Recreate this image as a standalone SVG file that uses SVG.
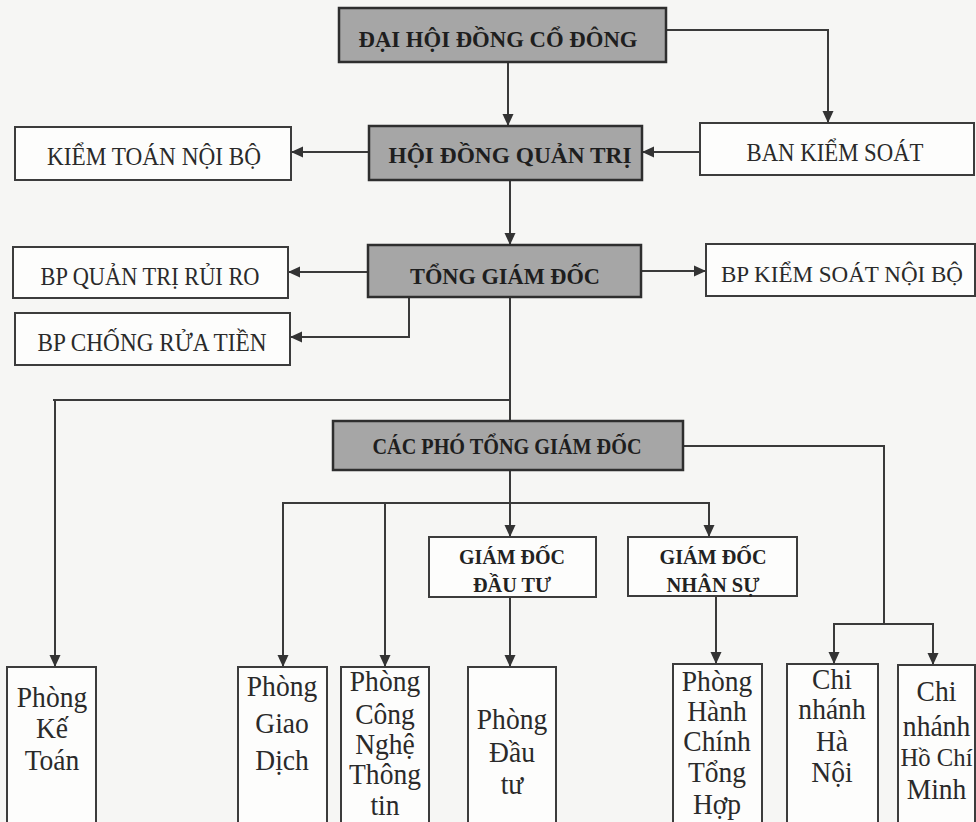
<svg xmlns="http://www.w3.org/2000/svg" width="976" height="822" viewBox="0 0 976 822">
<defs>
<marker id="ah" markerUnits="userSpaceOnUse" markerWidth="12" markerHeight="12" viewBox="0 0 12 12" refX="12" refY="6" orient="auto">
<path d="M0,0.5 L12,6 L0,11.5 z" fill="#333"/>
</marker>
<style>
.dark{fill:#a6a6a6;stroke:#2e2e2e;stroke-width:2.5}
.box{fill:#fdfdfc;stroke:#3c3c3c;stroke-width:2}
.hd{font-family:"Liberation Serif","Times New Roman",serif;font-weight:bold;font-size:24px;fill:#1e1e1e;text-anchor:middle}
.sm{font-family:"Liberation Serif","Times New Roman",serif;font-weight:bold;font-size:20px;fill:#222;text-anchor:middle}
.rg{font-family:"Liberation Serif","Times New Roman",serif;font-size:26px;fill:#2a2a2a;text-anchor:middle}
.bt{font-family:"Liberation Serif","Times New Roman",serif;font-size:29px;fill:#2a2a2a;text-anchor:middle}
.ln{fill:none;stroke:#3a3a3a;stroke-width:2}
</style>
</defs>
<rect width="976" height="822" fill="#f6f6f4"/>
<g id="connectors">
<line class="ln" x1="508" y1="62" x2="508" y2="126" marker-end="url(#ah)"/>
<polyline class="ln" points="666,30 828,30 828,123" marker-end="url(#ah)"/>
<line class="ln" x1="369" y1="152" x2="291" y2="152" marker-end="url(#ah)"/>
<line class="ln" x1="700" y1="152" x2="642" y2="152" marker-end="url(#ah)"/>
<line class="ln" x1="510" y1="180" x2="510" y2="245" marker-end="url(#ah)"/>
<line class="ln" x1="368" y1="272" x2="288" y2="272" marker-end="url(#ah)"/>
<line class="ln" x1="641" y1="271" x2="706" y2="271" marker-end="url(#ah)"/>
<polyline class="ln" points="409,297 409,337 290,337" marker-end="url(#ah)"/>
<line class="ln" x1="510" y1="297" x2="510" y2="421"/>
<polyline class="ln" points="510,400 53,400"/>
<line class="ln" x1="55" y1="400" x2="55" y2="667" marker-end="url(#ah)"/>
<polyline class="ln" points="683,446 884,446 884,624"/>
<line class="ln" x1="834" y1="624" x2="933" y2="624"/>
<line class="ln" x1="834" y1="623" x2="834" y2="664" marker-end="url(#ah)"/>
<line class="ln" x1="933" y1="623" x2="933" y2="665" marker-end="url(#ah)"/>
<line class="ln" x1="510" y1="470" x2="510" y2="537" marker-end="url(#ah)"/>
<line class="ln" x1="283" y1="503" x2="709" y2="503"/>
<line class="ln" x1="283" y1="502" x2="283" y2="667" marker-end="url(#ah)"/>
<line class="ln" x1="385" y1="502" x2="385" y2="667" marker-end="url(#ah)"/>
<line class="ln" x1="709" y1="502" x2="709" y2="537" marker-end="url(#ah)"/>
<line class="ln" x1="510" y1="597" x2="510" y2="667" marker-end="url(#ah)"/>
<line class="ln" x1="716" y1="596" x2="716" y2="664" marker-end="url(#ah)"/>
</g>
<g id="dhcd">
<rect class="dark" x="339" y="8" width="327" height="54"/>
<text class="hd" x="498" y="47" textLength="279" lengthAdjust="spacingAndGlyphs">ĐẠI HỘI ĐỒNG CỔ ĐÔNG</text>
</g>
<g id="hdqt">
<rect class="dark" x="369" y="126" width="273" height="54"/>
<text class="hd" x="510" y="163" textLength="243" lengthAdjust="spacingAndGlyphs">HỘI ĐỒNG QUẢN TRỊ</text>
</g>
<g id="ktnb">
<rect class="box" x="15" y="127" width="276" height="53"/>
<text class="rg" x="154" y="165" textLength="214" lengthAdjust="spacingAndGlyphs">KIỂM TOÁN NỘI BỘ</text>
</g>
<g id="bks">
<rect class="box" x="700" y="123" width="274" height="52"/>
<text class="rg" x="835" y="161" textLength="177" lengthAdjust="spacingAndGlyphs">BAN KIỂM SOÁT</text>
</g>
<g id="tgd">
<rect class="dark" x="368" y="245" width="273" height="52"/>
<text class="hd" x="505" y="284" textLength="190" lengthAdjust="spacingAndGlyphs">TỔNG GIÁM ĐỐC</text>
</g>
<g id="bpqtrr">
<rect class="box" x="13" y="247" width="275" height="51"/>
<text class="rg" x="150" y="285" textLength="219" lengthAdjust="spacingAndGlyphs">BP QUẢN TRỊ RỦI RO</text>
</g>
<g id="bpksnb">
<rect class="box" x="706" y="244" width="269" height="52"/>
<text class="rg" x="842" y="282" style="font-size:24px" textLength="242" lengthAdjust="spacingAndGlyphs">BP KIỂM SOÁT NỘI BỘ</text>
</g>
<g id="bpcrt">
<rect class="box" x="15" y="313" width="275" height="52"/>
<text class="rg" x="152" y="351" textLength="229" lengthAdjust="spacingAndGlyphs">BP CHỐNG RỬA TIỀN</text>
</g>
<g id="cptgd">
<rect class="dark" x="333" y="421" width="350" height="49"/>
<text class="hd" x="507" y="454" textLength="269" lengthAdjust="spacingAndGlyphs">CÁC PHÓ TỔNG GIÁM ĐỐC</text>
</g>
<g id="gddt">
<rect class="box" x="429" y="537" width="167" height="60"/>
<text class="sm" x="512" y="564" textLength="106" lengthAdjust="spacingAndGlyphs">GIÁM ĐỐC</text>
<text class="sm" x="512" y="592" textLength="78" lengthAdjust="spacingAndGlyphs">ĐẦU TƯ</text>
</g>
<g id="gdns">
<rect class="box" x="628" y="537" width="169" height="59"/>
<text class="sm" x="713" y="564" textLength="107" lengthAdjust="spacingAndGlyphs">GIÁM ĐỐC</text>
<text class="sm" x="713" y="592" textLength="93" lengthAdjust="spacingAndGlyphs">NHÂN SỰ</text>
</g>
<g id="pkt">
<rect class="box" x="7" y="667" width="89" height="170"/>
<g transform="translate(52 0) scale(0.95 1)">
<text class="bt" x="0" y="707">Phòng</text>
<text class="bt" x="0" y="738">Kế</text>
<text class="bt" x="0" y="770">Toán</text>
</g>
</g>
<g id="pgd">
<rect class="box" x="238" y="667" width="89" height="170"/>
<g transform="translate(282 0) scale(0.95 1)">
<text class="bt" x="0" y="696">Phòng</text>
<text class="bt" x="0" y="733">Giao</text>
<text class="bt" x="0" y="770">Dịch</text>
</g>
</g>
<g id="pcntt">
<rect class="box" x="341" y="667" width="88" height="170"/>
<g transform="translate(385 0) scale(0.95 1)">
<text class="bt" x="0" y="691">Phòng</text>
<text class="bt" x="0" y="724">Công</text>
<text class="bt" x="0" y="754">Nghệ</text>
<text class="bt" x="0" y="784">Thông</text>
<text class="bt" x="0" y="815">tin</text>
</g>
</g>
<g id="pdt">
<rect class="box" x="468" y="667" width="88" height="170"/>
<g transform="translate(512 0) scale(0.95 1)">
<text class="bt" x="0" y="729">Phòng</text>
<text class="bt" x="0" y="762">Đầu</text>
<text class="bt" x="0" y="794">tư</text>
</g>
</g>
<g id="phcth">
<rect class="box" x="673" y="664" width="89" height="170"/>
<g transform="translate(717 0) scale(0.95 1)">
<text class="bt" x="0" y="691">Phòng</text>
<text class="bt" x="0" y="721">Hành</text>
<text class="bt" x="0" y="751">Chính</text>
<text class="bt" x="0" y="782">Tổng</text>
<text class="bt" x="0" y="814">Hợp</text>
</g>
</g>
<g id="cnhn">
<rect class="box" x="787" y="664" width="91" height="170"/>
<g transform="translate(832 0) scale(0.95 1)">
<text class="bt" x="0" y="689">Chi</text>
<text class="bt" x="0" y="719">nhánh</text>
<text class="bt" x="0" y="751">Hà</text>
<text class="bt" x="0" y="782">Nội</text>
</g>
</g>
<g id="cnhcm">
<rect class="box" x="898" y="665" width="77" height="170"/>
<g transform="translate(936.5 0) scale(0.95 1)">
<text class="bt" x="0" y="701">Chi</text>
<text class="bt" x="0" y="736">nhánh</text>
<text class="bt" x="0" y="766" style="font-size:26px">Hồ Chí</text>
<text class="bt" x="0" y="799">Minh</text>
</g>
</g>
</svg>
